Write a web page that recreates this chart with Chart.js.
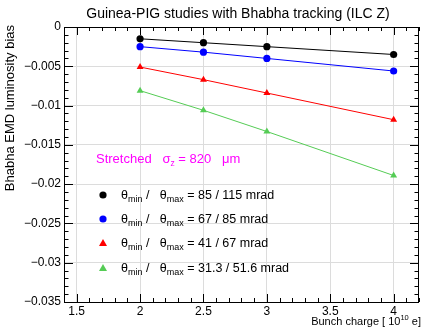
<!DOCTYPE html>
<html><head><meta charset="utf-8">
<script src="https://cdn.jsdelivr.net/npm/chart.js@4.4.1/dist/chart.umd.min.js"></script>
<style>html,body{margin:0;padding:0;background:#fff}#wrap{width:423px;height:327px}</style>
</head><body><div id="wrap"><canvas id="c" width="423" height="327"></canvas></div>
<script>
const bunchCharge = [2, 2.5, 3, 4];
const bias85_115 = [-0.0015, -0.0020, -0.0025, -0.0035];
const bias67_85 = [-0.0025, -0.0032, -0.0040, -0.0056];
const bias41_67 = [-0.0051, -0.0067, -0.0084, -0.0118];
const bias31_51 = [-0.0081, -0.0106, -0.0133, -0.0189];
const legendLabels = ['85 / 115 mrad', '67 / 85 mrad', '41 / 67 mrad', '31.3 / 51.6 mrad'];
const xTickLabels = ['1.5', '2', '2.5', '3', '3.5', '4'];
const yTickLabels = ['0', '\u22120.005', '\u22120.01', '\u22120.015', '\u22120.02', '\u22120.025', '\u22120.03', '\u22120.035'];

const FONT = 'Liberation Sans, Arial, Helvetica, sans-serif';
const colors = ['#000000', '#0000ff', '#ff0000', '#55cc55'];
const shapes = ['circle', 'circle', 'triangle', 'triangle'];
const series = [bias85_115, bias67_85, bias41_67, bias31_51];

const datasets = series.map((s, i) => ({
  label: legendLabels[i],
  data: bunchCharge.map((x, j) => ({x: x, y: s[j]})),
  borderColor: colors[i],
  backgroundColor: colors[i],
  borderWidth: 1,
  pointStyle: shapes[i],
  pointRadius: shapes[i] === 'circle' ? 3.6 : 4,
  pointBorderWidth: 0,
  showLine: true,
  tension: 0
}));

function isMajorX(v){ return Math.abs(v*2 - Math.round(v*2)) < 1e-6; }
function isMajorY(v){ const k = Math.round(-v*1000); return Math.abs(-v*1000 - k) < 1e-6 && k % 5 === 0; }

const decor = {
  id: 'decor',
  afterDatasetsDraw(chart) {
    const ctx = chart.ctx, a = chart.chartArea;
    const xs = chart.scales.x, ys = chart.scales.y;
    ctx.save();
    ctx.strokeStyle = '#000'; ctx.lineWidth = 1;
    ctx.beginPath();
    xs.ticks.forEach(t => {
      const p = Math.round(xs.getPixelForValue(t.value)) + 0.5;
      const L = isMajorX(t.value) ? 8 : 4;
      ctx.moveTo(p, a.bottom); ctx.lineTo(p, a.bottom - L);
      ctx.moveTo(p, a.top); ctx.lineTo(p, a.top + L);
    });
    ys.ticks.forEach(t => {
      const p = Math.round(ys.getPixelForValue(t.value)) + 0.5;
      const L = isMajorY(t.value) ? 9 : 4.5;
      ctx.moveTo(a.left, p); ctx.lineTo(a.left + L, p);
      ctx.moveTo(a.right, p); ctx.lineTo(a.right - L, p);
    });
    ctx.stroke();
    ctx.strokeRect(Math.round(a.left) + 0.5, Math.round(a.top) + 0.5, Math.round(a.right - a.left) - 1, Math.round(a.bottom - a.top));
    ctx.fillStyle = '#000';
    ctx.font = '14px ' + FONT;
    ctx.textAlign = 'center'; ctx.textBaseline = 'alphabetic';
    ctx.fillText('Guinea-PIG studies with Bhabha tracking (ILC Z)', 238, 18);
    ctx.save();
    ctx.translate(14, a.top - 2);
    ctx.rotate(-Math.PI/2);
    ctx.font = '13px ' + FONT;
    ctx.textAlign = 'right';
    ctx.fillText('Bhabha EMD luminosity bias', 0, 0);
    ctx.restore();
    ctx.textAlign = 'left';
    const p1 = 'Bunch charge [ 10', sup = '10', p2 = ' e]';
    ctx.font = '11px ' + FONT; const w1 = ctx.measureText(p1).width, w3 = ctx.measureText(p2).width;
    ctx.font = '7.5px ' + FONT; const w2 = ctx.measureText(sup).width;
    let x0 = 421 - (w1 + w2 + w3);
    const by = 325;
    ctx.font = '11px ' + FONT; ctx.fillText(p1, x0, by);
    ctx.font = '7.5px ' + FONT; ctx.fillText(sup, x0 + w1, by - 5);
    ctx.font = '11px ' + FONT; ctx.fillText(p2, x0 + w1 + w2, by);
    ctx.fillStyle = '#ff00ff';
    let ax = 96; const ay = 163;
    const seg = (txt, size, dy) => { ctx.font = size + 'px ' + FONT; ctx.fillText(txt, ax, ay + dy); ax += ctx.measureText(txt).width; };
    seg('Stretched   \u03c3', 13, 0); seg('z', 8.5, 3); seg(' = 820   \u03bcm', 13, 0);
    const rows = [195, 219, 243, 268];
    rows.forEach((ry, i) => {
      ctx.fillStyle = colors[i];
      ctx.beginPath();
      if (shapes[i] === 'circle') { ctx.arc(103, ry, 3.6, 0, Math.PI*2); }
      else { ctx.moveTo(103, ry - 4); ctx.lineTo(107, ry + 3); ctx.lineTo(99, ry + 3); ctx.closePath(); }
      ctx.fill();
      ctx.fillStyle = '#000';
      let lx = 121; const bl = ry + 4;
      const s = (txt, size, dy) => { ctx.font = size + 'px ' + FONT; ctx.fillText(txt, lx, bl + dy); lx += ctx.measureText(txt).width; };
      s('\u03b8', 12.5, 0); s('min', 9, 3); s(' /   \u03b8', 12.5, 0); s('max', 9, 3); s(' = ' + legendLabels[i], 12.5, 0);
    });
    ctx.restore();
  }
};

new Chart(document.getElementById('c'), {
  type: 'scatter',
  data: { datasets },
  options: {
    responsive: false, animation: false, devicePixelRatio: 1,
    layout: { padding: { top: 27, right: 1, left: 0, bottom: 0 } },
    plugins: { legend: { display: false }, title: { display: false }, tooltip: { enabled: false } },
    scales: {
      x: {
        type: 'linear', min: 1.4, max: 4.2,
        afterFit(s) { s.height = 25; },
        afterBuildTicks(s) { const t = []; for (let k = 14; k <= 42; k++) t.push({ value: k / 10 }); s.ticks = t; },
        ticks: {
          autoSkip: false, maxRotation: 0, padding: 2, color: '#000',
          font: { size: 12, family: FONT },
          callback(v) { if (!isMajorX(v) || v < 1.45 || v > 4.05) return ''; return xTickLabels[Math.round((v - 1.5) * 2)] ?? ''; }
        },
        grid: { drawTicks: false, drawOnChartArea: true, color: c => (c.tick && isMajorX(c.tick.value) && c.tick.value > 1.45 && c.tick.value < 4.05) ? '#dcdcdc' : 'rgba(0,0,0,0)', lineWidth: 1 },
        border: { display: false }
      },
      y: {
        type: 'linear', min: -0.035, max: 0,
        afterFit(s) { s.width = 64; },
        afterBuildTicks(s) { const t = []; for (let k = 0; k <= 35; k++) t.push({ value: -k / 1000 }); s.ticks = t; },
        ticks: {
          autoSkip: false, padding: 3, color: '#000',
          font: { size: 12, family: FONT },
          callback(v) { if (!isMajorY(v)) return ''; return yTickLabels[Math.round(-v * 200)]; }
        },
        grid: { drawTicks: false, color: c => (c.tick && isMajorY(c.tick.value) && c.tick.value < -0.0001 && c.tick.value > -0.0349) ? '#dcdcdc' : 'rgba(0,0,0,0)', lineWidth: 1 },
        border: { display: false }
      }
    }
  },
  plugins: [decor]
});
</script></body></html>
